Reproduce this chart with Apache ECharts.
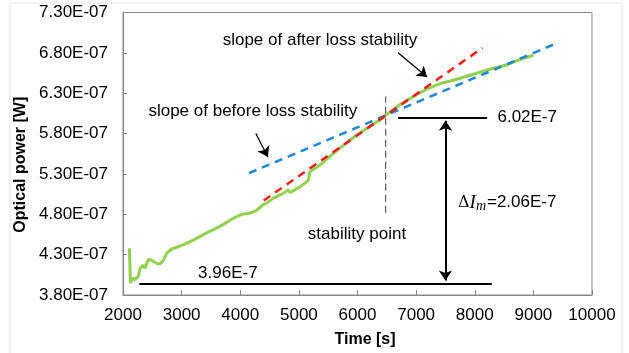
<!DOCTYPE html>
<html>
<head>
<meta charset="utf-8">
<script src="https://cdn.jsdelivr.net/npm/echarts@6/dist/echarts.min.js"></script>
<style>
  html, body { margin: 0; padding: 0; background: #fff; }
  #main { width: 629px; height: 353px; }
</style>
</head>
<body>
<div id="main"></div>
<script>
// values in units of 1E-07 W
const timeS = [2110, 2125, 2166, 2205, 2261, 2290, 2346, 2375, 2432, 2490, 2575, 2631, 2688, 2746, 2831,
  3029, 3200, 3428, 3655, 3882, 4026, 4138, 4224, 4282, 4394, 4453, 4565, 4735, 4821, 4850, 5020, 5162,
  5191, 5362, 5532, 5703, 5874, 6044, 6215, 6386, 6471, 6727, 6954, 7181, 7410, 7637, 7865, 8092, 8319,
  8548, 8775, 9002];
const power = [4.38, 3.95, 4.01, 3.99, 4.03, 4.13, 4.17, 4.13, 4.24, 4.23, 4.19, 4.185, 4.23, 4.32, 4.37,
  4.42, 4.48, 4.57, 4.65, 4.75, 4.80, 4.81, 4.83, 4.85, 4.92, 4.94, 5.00, 5.06, 5.10, 5.07, 5.14, 5.22,
  5.33, 5.41, 5.52, 5.62, 5.72, 5.81, 5.89, 5.97, 6.02, 6.16, 6.26, 6.35, 6.42, 6.46, 6.51, 6.56, 6.61,
  6.65, 6.72, 6.77];

const slopeBefore = [[4150, 5.31], [9400, 6.92]];
const slopeAfter = [[4400, 4.97], [8130, 6.86]];
const stabilityLine = [[6480, 4.82], [6480, 6.26]];
const baseLine = [[2280, 3.94], [8290, 3.94]];
const topLine = [[6690, 6.0], [8210, 6.0]];
const deltaArrow = [[7500, 5.96], [7500, 3.98]];
const afterPointer = [[6692, 6.80], [7187, 6.50]];
const beforePointer = [[4266, 5.80], [4471, 5.51]];

const notes = [
  { text: 'slope of after loss stability', at: [5360, 6.95] },
  { text: 'slope of before loss stability', at: [4215, 6.07] },
  { text: 'stability point', at: [5991, 4.55] },
  { text: '6.02E-7', at: [8895, 6.0] },
  { text: '3.96E-7', at: [3788, 4.07] },
  { text: '{d|Δ}{i|I}{s|m}{n|=2.06E-7}', at: [8554, 4.946] }
];

const FONT = "'Liberation Sans', Arial, sans-serif";
const pair = (a, b) => a.map((v, i) => [v, b[i]]);

const arrowItem = (seg, startSym, endSym, width) => [
  { coord: seg[0], symbol: startSym, symbolSize: 10, lineStyle: { color: '#000', width: width, type: 'solid' } },
  { coord: seg[1], symbol: endSym, symbolSize: 10 }
];

const option = {
  animation: false,
  grid: { left: 123, right: 37, top: 12.5, bottom: 57, show: true, borderColor: '#868686', borderWidth: 1 },
  graphic: [{
    type: 'rect', silent: true, z: -1,
    shape: { x: 10, y: 3, width: 612, height: 360 },
    style: { fill: 'none', stroke: '#e4e4e4', lineWidth: 1 }
  }],
  xAxis: {
    type: 'value', min: 2000, max: 10000, interval: 1000,
    name: 'Time [s]', nameLocation: 'middle', nameGap: 37,
    nameTextStyle: { fontFamily: FONT, fontSize: 16, fontWeight: 'bold', color: '#000', padding: [0, 0, 0, 15] },
    axisLine: { lineStyle: { color: '#868686' } },
    axisTick: { inside: true, length: 5, lineStyle: { color: '#868686' } },
    axisLabel: { fontFamily: FONT, fontSize: 17, color: '#000', margin: 12, formatter: v => String(v) },
    splitLine: { show: false }
  },
  yAxis: {
    type: 'value', min: 3.8, max: 7.3, interval: 0.5,
    name: 'Optical power [W]', nameLocation: 'middle', nameGap: 93,
    nameTextStyle: { fontFamily: FONT, fontSize: 16, fontWeight: 'bold', color: '#000', padding: [0, 22, 0, 0] },
    axisLine: { show: true, lineStyle: { color: '#868686' } },
    axisTick: { show: true, inside: true, length: 4, lineStyle: { color: '#868686' } },
    axisLabel: {
      fontFamily: FONT, fontSize: 17, color: '#000', margin: 15,
      formatter: v => v.toFixed(2) + 'E-07'
    },
    splitLine: { show: false }
  },
  series: [
    {
      type: 'line', data: pair(timeS, power), showSymbol: false, z: 3,
      lineStyle: { color: '#92D050', width: 3 }
    },
    {
      type: 'line', data: slopeBefore, showSymbol: false, z: 4,
      lineStyle: { color: '#1F86D2', width: 2.5, type: [8, 6] }
    },
    {
      type: 'line', data: slopeAfter, showSymbol: false, z: 4,
      lineStyle: { color: '#F21B1B', width: 2.5, type: [8, 6] }
    },
    {
      type: 'line', data: stabilityLine, showSymbol: false, z: 2,
      lineStyle: { color: '#555', width: 1.2, type: [7, 4] }
    },
    {
      type: 'line', data: [], z: 5,
      markLine: {
        silent: true, animation: false,
        label: { show: false },
        data: [
          arrowItem(baseLine, 'none', 'none', 2),
          arrowItem(topLine, 'none', 'none', 2),
          arrowItem(deltaArrow, 'arrow', 'arrow', 2),
          arrowItem(afterPointer, 'none', 'arrow', 1.3),
          arrowItem(beforePointer, 'none', 'arrow', 1.3)
        ]
      },
      markPoint: {
        silent: true, animation: false,
        symbol: 'circle', symbolSize: 0,
        data: notes.map(n => ({
          coord: n.at,
          label: {
            show: true, position: 'inside', formatter: n.text,
            fontFamily: FONT, fontSize: 17, color: '#000',
            rich: {
              d: { fontFamily: "'DejaVu Serif', serif", fontSize: 16, color: '#000' },
              i: { fontFamily: "'Liberation Serif', serif", fontStyle: 'italic', fontSize: 19, color: '#000' },
              s: { fontFamily: "'Liberation Serif', serif", fontStyle: 'italic', fontSize: 14, color: '#000', padding: [8, 1, 0, 0] },
              n: { fontFamily: FONT, fontSize: 17, color: '#000' }
            }
          }
        }))
      }
    }
  ]
};

const myChart = echarts.init(document.getElementById('main'));
myChart.setOption(option);
</script>
</body>
</html>
